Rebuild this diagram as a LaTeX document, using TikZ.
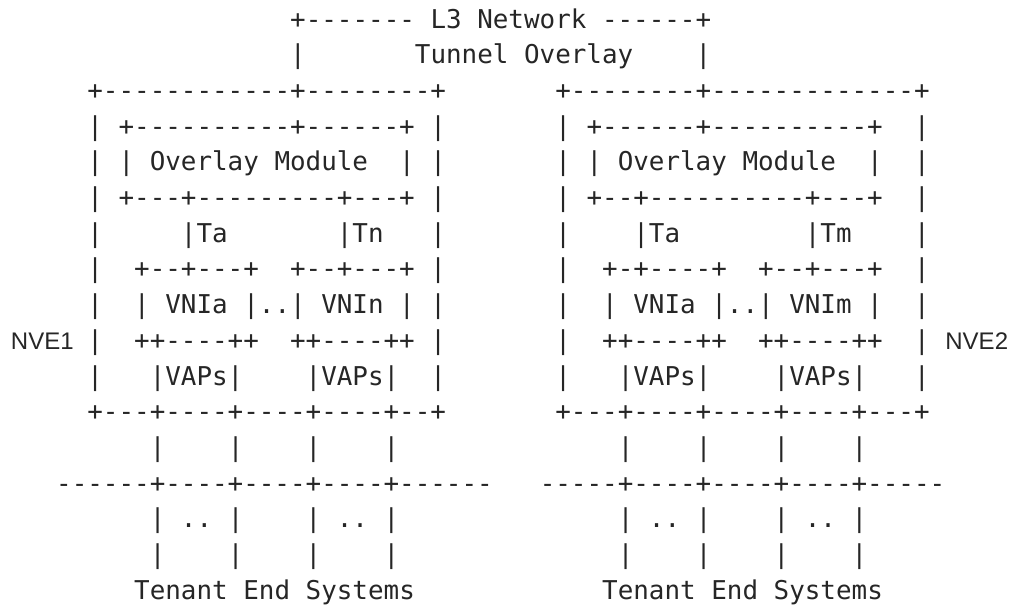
\documentclass[tikz,border=0pt]{standalone}
\usepackage{fontspec}
\setmonofont{DejaVu Sans Mono}
\newfontfamily\nvefont{Liberation Sans}
\usepackage{tikz}

\tikzset{
  ascii/.style={font=\ttfamily\fontsize{25.9}{35.7}\selectfont,
    text=black!85, anchor=base west, inner sep=0pt},
  nvelabel/.style={font=\nvefont\fontsize{24}{28}\selectfont,
    text=black!85, anchor=base west, inner sep=0pt}
}

\begin{document}
\begin{tikzpicture}[x=15.6pt,y=-35.7pt]
  \useasboundingbox (0pt,0pt) rectangle (1010pt,-605pt);
  % one column = one character, one row = one text line
  \begin{scope}[shift={(9.2pt,-28pt)}]
  % L3 network on top
  \node[ascii] (net)    at (18,0) {+-------~L3~Network~------+};
  \node[ascii] (tunnel) at (18,1) {|~~~~~~~Tunnel~Overlay~~~~|};
  % NVE1
  \node[ascii] (ltop)   at (5,2)  {+------------+--------+};
  \node[ascii] (lomtop) at (5,3)  {|~+----------+------+~|};
  \node[ascii] (lom)    at (5,4)  {|~|~Overlay~Module~~|~|};
  \node[ascii] (lombot) at (5,5)  {|~+---+---------+---+~|};
  \node[ascii] (ltn)    at (5,6)  {|~~~~~|Ta~~~~~~~|Tn~~~|};
  \node[ascii] (lvnitop) at (5,7) {|~~+--+---+~~+--+---+~|};
  \node[ascii] (lvni)   at (5,8)  {|~~|~VNIa~|..|~VNIn~|~|};
  \node[ascii] (lvnibot) at (5,9) {|~~++----++~~++----++~|};
  \node[ascii] (lvap)   at (5,10) {|~~~|VAPs|~~~~|VAPs|~~|};
  \node[ascii] (lbot)   at (5,11) {+---+----+----+----+--+};
  \node[nvelabel] (nve1) at (0.1,9) {NVE1};
  % NVE2
  \node[ascii] (rtop)   at (35,2)  {+--------+-------------+};
  \node[ascii] (romtop) at (35,3)  {|~+------+----------+~~|};
  \node[ascii] (rom)    at (35,4)  {|~|~Overlay~Module~~|~~|};
  \node[ascii] (rombot) at (35,5)  {|~+--+----------+---+~~|};
  \node[ascii] (rtn)    at (35,6)  {|~~~~|Ta~~~~~~~~|Tm~~~~|};
  \node[ascii] (rvnitop) at (35,7) {|~~+-+----+~~+--+---+~~|};
  \node[ascii] (rvni)   at (35,8)  {|~~|~VNIa~|..|~VNIm~|~~|};
  \node[ascii] (rvnibot) at (35,9) {|~~++----++~~++----++~~|};
  \node[ascii] (rvap)   at (35,10) {|~~~|VAPs|~~~~|VAPs|~~~|};
  \node[ascii] (rbot)   at (35,11) {+---+----+----+----+---+};
  \node[nvelabel] (nve2) at (60.0,9) {NVE2};
  % tenant side
  \node[ascii] (lup)    at (9,12)  {|~~~~|~~~~|~~~~|};
  \node[ascii] (lbus)   at (3,13)  {------+----+----+----+------};
  \node[ascii] (ldots)  at (9,14)  {|~..~|~~~~|~..~|};
  \node[ascii] (ldown)  at (9,15)  {|~~~~|~~~~|~~~~|};
  \node[ascii] (lten)   at (8,16)  {Tenant~End~Systems};
  \node[ascii] (rup)    at (39,12) {|~~~~|~~~~|~~~~|};
  \node[ascii] (rbus)   at (34,13) {-----+----+----+----+-----};
  \node[ascii] (rdots)  at (39,14) {|~..~|~~~~|~..~|};
  \node[ascii] (rdown)  at (39,15) {|~~~~|~~~~|~~~~|};
  \node[ascii] (rten)   at (38,16) {Tenant~End~Systems};
  \end{scope}
\end{tikzpicture}
\end{document}
